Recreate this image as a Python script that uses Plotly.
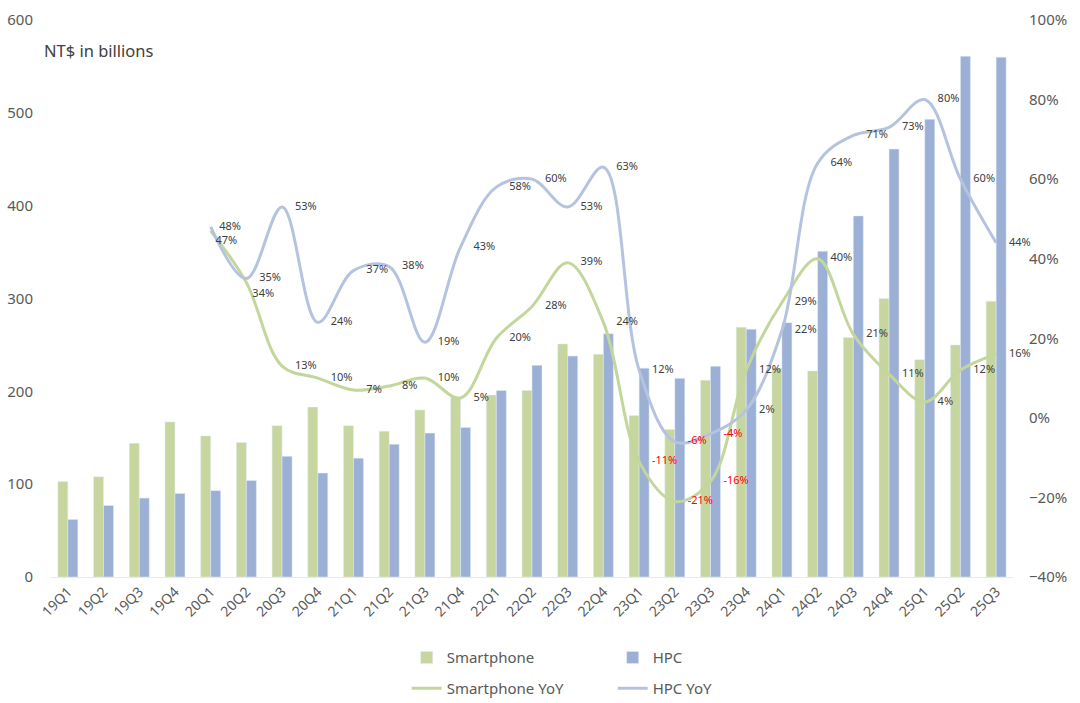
import plotly.graph_objects as go

quarters = ["19Q1","19Q2","19Q3","19Q4","20Q1","20Q2","20Q3","20Q4","21Q1","21Q2","21Q3","21Q4",
            "22Q1","22Q2","22Q3","22Q4","23Q1","23Q2","23Q3","23Q4","24Q1","24Q2","24Q3","24Q4",
            "25Q1","25Q2","25Q3"]
smartphone = [103, 108, 144, 167, 152, 145, 163, 183, 163, 157, 180, 194,
              196, 201, 251, 240, 174, 159, 212, 269, 225, 222, 258, 300,
              234, 250, 297]
hpc = [62, 77, 85, 90, 93, 104, 130, 112, 128, 143, 155, 161,
       201, 228, 238, 262, 225, 214, 227, 267, 274, 351, 389, 461,
       493, 561, 560]
yoy_quarters = quarters[4:]
smartphone_yoy = [47, 34, 13, 10, 7, 8, 10, 5, 20, 28, 39, 24, -11, -21, -16, 12,
                  29, 40, 21, 11, 4, 12, 16]
hpc_yoy = [48, 35, 53, 24, 37, 38, 19, 43, 58, 60, 53, 63, 12, -6, -4, 2,
           22, 64, 71, 73, 80, 60, 44]

GREEN_BAR = "#C6D69E"
BLUE_BAR = "#9BB0D4"
GREEN_LINE = "#C3D69B"
BLUE_LINE = "#B6C3DF"
FONT = "Noto Sans"

def lbl_colors(vals):
    return ["#FF0000" if v < 0 else "#404040" for v in vals]

fig = go.Figure()
fig.add_trace(go.Bar(x=quarters, y=smartphone, name="Smartphone", marker_color=GREEN_BAR,
                     legend="legend"))
fig.add_trace(go.Bar(x=quarters, y=hpc, name="HPC", marker_color=BLUE_BAR, legend="legend"))

sp_frac = [v / 100 for v in smartphone_yoy]
hpc_frac = [v / 100 for v in hpc_yoy]

fig.add_trace(go.Scatter(x=yoy_quarters, y=sp_frac, name="Smartphone YoY", mode="lines",
                         line=dict(color=GREEN_LINE, width=3, shape="spline", smoothing=1.0),
                         yaxis="y2", legend="legend2"))
fig.add_trace(go.Scatter(x=yoy_quarters, y=hpc_frac, name="HPC YoY", mode="lines",
                         line=dict(color=BLUE_LINE, width=3, shape="spline", smoothing=1.0),
                         yaxis="y2", legend="legend2"))

sp_pos = ["middle right"] * len(smartphone_yoy)
sp_pos[0] = "bottom right"
sp_pos[1] = "bottom right"
sp_size = [19] * len(smartphone_yoy)
sp_size[0] = 6
sp_size[1] = 8
hpc_pos = ["middle right"] * len(hpc_yoy)
hpc_size = [19] * len(hpc_yoy)
hpc_size[0] = 12

fig.add_trace(go.Scatter(x=yoy_quarters, y=sp_frac, mode="markers+text", yaxis="y2", showlegend=False,
                         marker=dict(size=sp_size, opacity=0), cliponaxis=False,
                         text=[f"{v}%" for v in smartphone_yoy], textposition=sp_pos,
                         textfont=dict(size=11, color=lbl_colors(smartphone_yoy), family=FONT),
                         hoverinfo="skip"))
fig.add_trace(go.Scatter(x=yoy_quarters, y=hpc_frac, mode="markers+text", yaxis="y2", showlegend=False,
                         marker=dict(size=hpc_size, opacity=0), cliponaxis=False,
                         text=[f"{v}%" for v in hpc_yoy], textposition=hpc_pos,
                         textfont=dict(size=11, color=lbl_colors(hpc_yoy), family=FONT),
                         hoverinfo="skip"))

fig.update_layout(
    width=1080, height=703,
    margin=dict(l=50, r=66, t=20, b=126, autoexpand=False),
    paper_bgcolor="white", plot_bgcolor="white",
    font=dict(family=FONT, color="#595959", size=14),
    barmode="group", bargap=0.44, bargroupgap=0.0,
    xaxis=dict(type="category", range=[-0.5, len(quarters) - 0.5], tickangle=-45,
               tickfont=dict(size=14, color="#595959"),
               showline=True, linecolor="#E6E9F0", linewidth=1, showgrid=False, ticks="",
               automargin=False),
    yaxis=dict(range=[0, 600], dtick=100, showgrid=False, zeroline=False,
               tickfont=dict(size=15, color="#595959"), ticklabelstandoff=16, automargin=False),
    yaxis2=dict(range=[-0.4, 1.0], dtick=0.2, tickformat=".0%", overlaying="y", side="right",
                showgrid=False, zeroline=False, tickfont=dict(size=15, color="#595959"),
                ticklabelstandoff=14, automargin=False),
    legend=dict(orientation="h", x=0.37, xanchor="left", y=-0.145, yanchor="middle",
                entrywidth=161, entrywidthmode="pixels", font=dict(size=15, color="#595959"),
                bgcolor="rgba(0,0,0,0)", traceorder="normal"),
    legend2=dict(orientation="h", x=0.37, xanchor="left", y=-0.2, yanchor="middle",
                 entrywidth=161, entrywidthmode="pixels", font=dict(size=15, color="#595959"),
                 bgcolor="rgba(0,0,0,0)", traceorder="normal"),
    annotations=[dict(text="NT$ in billions", xref="paper", yref="paper", x=-0.008, y=0.945,
                      xanchor="left", yanchor="middle", showarrow=False,
                      font=dict(size=16.5, color="#404040", family=FONT))],
    showlegend=True,
)

fig.write_html("out.html")
